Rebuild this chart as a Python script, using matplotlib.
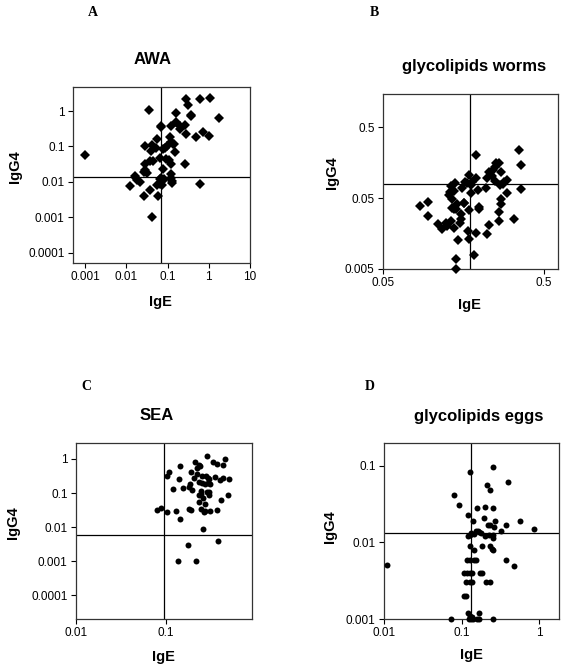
import numpy as np
import matplotlib
matplotlib.use("Agg")
import matplotlib.pyplot as plt

# panel A: AWA (IgE, IgG4)
awa_ige = [0.001, 0.036, 0.28, 0.62, 1.07, 0.31, 1.78, 0.37, 0.38, 0.163, 0.07, 0.07,
           0.16, 0.123, 0.204, 0.265, 0.207, 0.29, 0.714, 0.49, 1.0, 0.114, 0.054,
           0.125, 0.135, 0.148, 0.095, 0.088, 0.077, 0.0285, 0.041, 0.052, 0.039,
           0.151, 0.091, 0.065, 0.106, 0.045, 0.038, 0.029, 0.123, 0.265, 0.077,
           0.028, 0.027, 0.031, 0.016, 0.0175, 0.0185, 0.021, 0.0123, 0.065, 0.071,
           0.078, 0.084, 0.067, 0.075, 0.057, 0.123, 0.125, 0.127, 0.131, 0.627,
           0.038, 0.0265, 0.059, 0.043]
awa_igg4 = [0.056, 1.09, 2.18, 2.13, 2.27, 1.48, 0.65, 0.77, 0.71, 0.88, 0.386, 0.347,
            0.48, 0.37, 0.386, 0.41, 0.311, 0.225, 0.262, 0.181, 0.202, 0.185, 0.163,
            0.131, 0.12, 0.12, 0.101, 0.091, 0.087, 0.106, 0.108, 0.093, 0.076,
            0.0685, 0.0445, 0.0475, 0.0425, 0.038, 0.039, 0.033, 0.0315, 0.033, 0.0232,
            0.0222, 0.019, 0.018, 0.0144, 0.013, 0.0116, 0.01, 0.0079, 0.0122, 0.013,
            0.0116, 0.0124, 0.009, 0.0081, 0.0083, 0.0172, 0.013, 0.0104, 0.0094, 0.0088,
            0.0058, 0.0039, 0.0039, 0.001]

# panel B: glycolipids worms
gw_ige = [0.35, 0.363, 0.363, 0.19, 0.326, 0.085, 0.095, 0.095, 0.11, 0.123, 0.125,
          0.132, 0.139, 0.135, 0.135, 0.138, 0.138, 0.143, 0.145, 0.146, 0.143, 0.143,
          0.151, 0.153, 0.152, 0.155, 0.159, 0.16, 0.162, 0.167, 0.169, 0.172, 0.172,
          0.172, 0.177, 0.177, 0.179, 0.189, 0.185, 0.189, 0.196, 0.197, 0.198, 0.219,
          0.221, 0.223, 0.229, 0.227, 0.237, 0.241, 0.25, 0.253, 0.265, 0.25, 0.262,
          0.265, 0.269, 0.273, 0.273, 0.279, 0.285, 0.296, 0.296, 0.271, 0.128, 0.13,
          0.132, 0.141, 0.117]
gw_igg4 = [0.24, 0.145, 0.068, 0.2, 0.025, 0.039, 0.044, 0.028, 0.0217, 0.0224, 0.02,
           0.0237, 0.019, 0.049, 0.036, 0.035, 0.062, 0.035, 0.041, 0.0127, 0.0069, 0.005,
           0.0224, 0.025, 0.03, 0.07, 0.042, 0.043, 0.085, 0.081, 0.0173, 0.013, 0.034,
           0.106, 0.076, 0.059, 0.085, 0.016, 0.0077, 0.097, 0.064, 0.037, 0.035, 0.069,
           0.0155, 0.096, 0.021, 0.118, 0.104, 0.124, 0.136, 0.158, 0.158, 0.088, 0.0313,
           0.0237, 0.076, 0.048, 0.041, 0.079, 0.084, 0.09, 0.058, 0.118, 0.055, 0.06,
           0.075, 0.081, 0.0185]

# panel C: SEA
sea_ige = [0.292, 0.457, 0.215, 0.236, 0.24, 0.34, 0.379, 0.434, 0.147, 0.222, 0.11,
           0.104, 0.192, 0.222, 0.253, 0.285, 0.3, 0.31, 0.357, 0.44, 0.41, 0.515,
           0.142, 0.21, 0.238, 0.253, 0.273, 0.3, 0.318, 0.19, 0.181, 0.158, 0.122,
           0.2, 0.246, 0.292, 0.31, 0.235, 0.248, 0.308, 0.5, 0.264, 0.418, 0.235,
           0.278, 0.08, 0.089, 0.103, 0.13, 0.181, 0.192, 0.25, 0.266, 0.278, 0.316,
           0.376, 0.146, 0.264, 0.39, 0.18, 0.137, 0.22]
sea_igg4 = [1.22, 1.0, 0.82, 0.68, 0.61, 0.8, 0.7, 0.68, 0.61, 0.54, 0.42, 0.31, 0.41,
            0.37, 0.32, 0.31, 0.28, 0.25, 0.3, 0.28, 0.24, 0.25, 0.25, 0.28, 0.21, 0.2,
            0.19, 0.2, 0.19, 0.19, 0.15, 0.138, 0.132, 0.126, 0.118, 0.11, 0.11, 0.09,
            0.096, 0.086, 0.09, 0.072, 0.064, 0.055, 0.049, 0.032, 0.036, 0.027, 0.029,
            0.033, 0.031, 0.034, 0.027, 0.029, 0.029, 0.031, 0.0175, 0.0087, 0.0038,
            0.0029, 0.001, 0.001]

# panel D: glycolipids eggs
ge_ige = [0.0108, 0.258, 0.129, 0.395, 0.212, 0.234, 0.079, 0.094, 0.157, 0.198, 0.253,
          0.123, 0.194, 0.139, 0.274, 0.57, 0.22, 0.233, 0.376, 0.261, 0.324, 0.862,
          0.152, 0.162, 0.17, 0.179, 0.134, 0.123, 0.13, 0.144, 0.2, 0.253, 0.258,
          0.229, 0.185, 0.234, 0.246, 0.256, 0.147, 0.127, 0.376, 0.472, 0.118, 0.13,
          0.144, 0.155, 0.107, 0.118, 0.13, 0.137, 0.172, 0.183, 0.114, 0.128, 0.136,
          0.208, 0.232, 0.107, 0.114, 0.121, 0.127, 0.137, 0.169, 0.073, 0.124, 0.133,
          0.141, 0.159, 0.166, 0.256]
ge_igg4 = [0.005, 0.095, 0.082, 0.061, 0.056, 0.048, 0.041, 0.031, 0.028, 0.029, 0.028,
           0.023, 0.021, 0.019, 0.0189, 0.0189, 0.017, 0.0168, 0.017, 0.0157, 0.0139,
           0.0148, 0.0141, 0.0142, 0.0137, 0.0133, 0.0133, 0.0121, 0.0124, 0.013, 0.0121,
           0.0125, 0.0115, 0.0126, 0.0089, 0.0089, 0.0083, 0.0079, 0.0079, 0.009, 0.0059,
           0.0049, 0.0059, 0.0059, 0.0059, 0.0059, 0.004, 0.004, 0.004, 0.004, 0.004,
           0.004, 0.003, 0.003, 0.003, 0.003, 0.003, 0.002, 0.002, 0.00119, 0.0011,
           0.00106, 0.00119, 0.001, 0.001, 0.001, 0.001, 0.001, 0.001, 0.001]

# cut-off lines (IgE, IgG4)
cut_awa = (0.069, 0.0135)
cut_gw = (0.173, 0.08)
cut_sea = (0.095, 0.0058)
cut_ge = (0.131, 0.0133)

W, H = 567, 671
SANS = ['Liberation Sans', 'DejaVu Sans']
SERIF = ['Liberation Serif', 'DejaVu Serif']

fig = plt.figure(figsize=(W / 100, H / 100), dpi=100)


def fx(px):
    return px / W


def fy(py):
    return 1 - py / H


def box(l, t, r, b):
    return [fx(l), fy(b), fx(r) - fx(l), fy(t) - fy(b)]


def panel(rect, xs, ys, cut, marker, ms, xlim, ylim, xt, xl, yt, yl):
    ax = fig.add_axes(rect)
    ax.plot(xs, ys, linestyle='none', marker=marker, ms=ms, color='black',
            markeredgewidth=0, clip_on=False, zorder=3)
    ax.axvline(cut[0], color='black', lw=0.9, zorder=2)
    ax.axhline(cut[1], color='black', lw=0.9, zorder=2)
    ax.set_xscale('log')
    ax.set_yscale('log')
    ax.set_xlim(*xlim)
    ax.set_ylim(*ylim)
    ax.set_xticks(xt, xl)
    ax.set_yticks(yt, yl)
    ax.minorticks_off()
    ax.tick_params(direction='out', length=3.5, width=0.8, pad=2.5, labelsize=8.5,
                   colors='black')
    for lab in ax.get_xticklabels() + ax.get_yticklabels():
        lab.set_family(SANS)
    for s in ax.spines.values():
        s.set_linewidth(0.9)
        s.set_color('#333333')
    return ax


panel(box(73, 87, 250, 263), awa_ige, awa_igg4, cut_awa, 'D', 5.2,
      (0.0005, 10.2), (5.2e-5, 4.75),
      [0.001, 0.01, 0.1, 1, 10], ['0.001', '0.01', '0.1', '1', '10'],
      [0.0001, 0.001, 0.01, 0.1, 1], ['0.0001', '0.001', '0.01', '0.1', '1'])
panel(box(383, 94, 558, 269), gw_ige, gw_igg4, cut_gw, 'D', 5.2,
      (0.0507, 0.614), (0.00495, 1.48),
      [0.05, 0.5], ['0.05', '0.5'],
      [0.005, 0.05, 0.5], ['0.005', '0.05', '0.5'])
panel(box(76, 443, 252, 619), sea_ige, sea_igg4, cut_sea, 'o', 4.3,
      (0.01, 0.925), (2.0e-5, 2.95),
      [0.01, 0.1], ['0.01', '0.1'],
      [0.0001, 0.001, 0.01, 0.1, 1], ['0.0001', '0.001', '0.01', '0.1', '1'])
panel(box(384, 443, 559, 619), ge_ige, ge_igg4, cut_ge, 'o', 4.3,
      (0.01, 1.81), (0.001, 0.198),
      [0.01, 0.1, 1], ['0.01', '0.1', '1'],
      [0.001, 0.01, 0.1], ['0.001', '0.01', '0.1'])

# panel letters
for lab, px, py in [('A', 93, 13), ('B', 374, 13), ('C', 86, 387), ('D', 370, 386)]:
    fig.text(fx(px), fy(py), lab, family=SERIF, weight='bold', fontsize=10,
             ha='center', va='center')

# titles
for lab, px, py in [('AWA', 153, 60), ('glycolipids worms', 474, 67),
                    ('SEA', 157, 415), ('glycolipids eggs', 479, 416)]:
    fig.text(fx(px), fy(py), lab, family=SANS, weight='bold', fontsize=12,
             ha='center', va='center')

# axis labels
for px, py in [(160, 302), (469, 305), (163, 657), (471, 655)]:
    fig.text(fx(px), fy(py), 'IgE', family=SANS, weight='bold', fontsize=10.5,
             ha='center', va='center')
for px, py in [(15, 167), (332, 173), (13, 523), (330, 527)]:
    fig.text(fx(px), fy(py), 'IgG4', family=SANS, weight='bold', fontsize=10.5,
             ha='center', va='center', rotation=90)

fig.savefig('out.png', dpi=100)
